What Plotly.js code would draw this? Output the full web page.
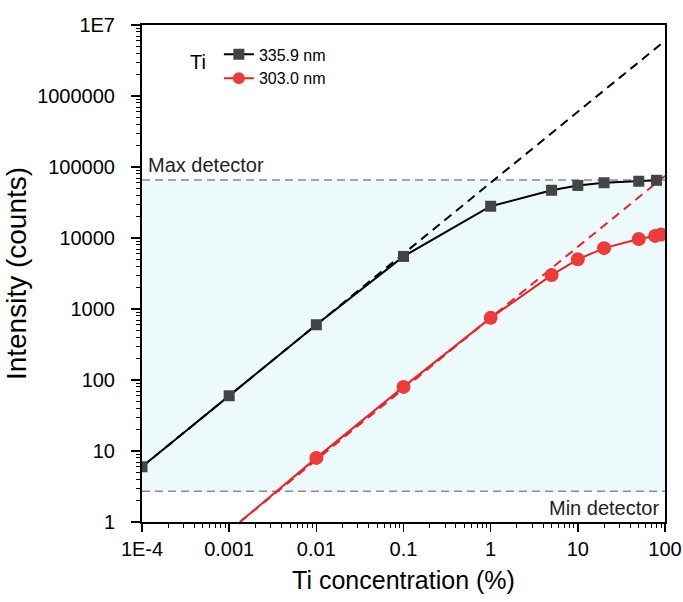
<!DOCTYPE html>
<html>
<head>
<meta charset="utf-8">
<script src="https://cdn.plot.ly/plotly-3.0.1.min.js"></script>
<style>html,body{margin:0;padding:0;background:#fff;}#chart{width:683px;height:602px;}</style>
</head>
<body>
<div id="chart"></div>
<script>
// Data
const concTi3359 = [1e-4, 0.001, 0.01, 0.1, 1, 5, 10, 20, 50, 80];
const intTi3359 = [6, 60, 600, 5500, 28000, 47000, 55000, 60000, 63000, 65000];
const concTi3030 = [0.00133, 0.01, 0.1, 1, 5, 10, 20, 50, 77, 90];
const intTi3030 = [1, 8, 80, 750, 3000, 5000, 7200, 9700, 10700, 11200];
// Ideal linear extrapolations (dashed)
const idealX = [1e-4, 100];
const ideal3359 = [6, 6000000];
const idealX3030 = [0.00133, 100];
const ideal3030 = [1, 75000];
// Detector limits
const maxDetector = 65535;
const minDetector = 2.7;
const xRange = [1e-4, 100];
// Tick labels
const xTickVals = [1e-4, 0.001, 0.01, 0.1, 1, 10, 100];
const xTickText = ["1E-4", "0.001", "0.01", "0.1", "1", "10", "100"];
const yTickVals = [1, 10, 100, 1000, 10000, 100000, 1000000, 10000000];
const yTickText = ["1", "10", "100", "1000", "10000", "100000", "1000000", "1E7"];

function minorVals(lo, hi) {
  const out = [];
  for (let e = lo; e < hi; e++) for (let m = 2; m <= 9; m++) out.push(m * Math.pow(10, e));
  return out;
}

const black = '#000000';
const blackMarker = '#444444';
const red = '#ec2227';
const redMarker = '#ef3a3a';
const FF = 'Liberation Sans, Arial, sans-serif';

const traces = [
  // shaded detector range
  {x: xRange, y: [minDetector, minDetector], mode: 'lines', line: {width: 0}, showlegend: false, hoverinfo: 'skip'},
  {x: xRange, y: [maxDetector, maxDetector], mode: 'lines', fill: 'tonexty', fillcolor: '#edfafc', line: {width: 0}, showlegend: false, hoverinfo: 'skip'},
  // detector lines
  {x: xRange, y: [maxDetector, maxDetector], mode: 'lines', line: {color: '#8a8a8a', width: 1.5, dash: '8px,5px'}, showlegend: false},
  {x: xRange, y: [minDetector, minDetector], mode: 'lines', line: {color: '#8a8a8a', width: 1.5, dash: '8px,5px'}, showlegend: false},
  // ideal dashed
  {x: idealX, y: ideal3359, mode: 'lines', line: {color: black, width: 2, dash: '9px,6px'}, showlegend: false},
  {x: idealX3030, y: ideal3030, mode: 'lines', line: {color: red, width: 2, dash: '9px,6px'}, showlegend: false},
  // series
  {x: concTi3359, y: intTi3359, mode: 'lines+markers', name: '335.9 nm',
   line: {color: black, width: 2}, marker: {symbol: 'square', size: 11, color: blackMarker}},
  {x: concTi3030, y: intTi3030, mode: 'lines', name: '303.0 nm', showlegend: false,
   line: {color: red, width: 2}},
  {x: concTi3030.slice(1), y: intTi3030.slice(1), mode: 'markers', name: '303.0 nm',
   marker: {symbol: 'circle', size: 14, color: redMarker}, showlegend: false},
  {x: [null], y: [null], mode: 'lines+markers', name: '303.0 nm',
   line: {color: red, width: 2}, marker: {symbol: 'circle', size: 12, color: redMarker}}
];

const axisFont = {family: FF, size: 20, color: '#000'};
const layout = {
  width: 683, height: 602,
  margin: {l: 142, r: 18, t: 25, b: 80},
  paper_bgcolor: '#fff', plot_bgcolor: '#fff',
  font: axisFont,
  showlegend: true,
  legend: {x: 0.147, y: 0.975, xanchor: 'left', yanchor: 'top', bgcolor: 'rgba(0,0,0,0)',
           traceorder: 'normal',
           font: {family: FF, size: 16, color: '#000'},
           tracegroupgap: 0},
  xaxis: {
    type: 'log', range: [-4, 2], tickvals: xTickVals, ticktext: xTickText,
    ticks: 'outside', ticklen: 8, tickwidth: 1.5, tickcolor: '#000',
    showline: true, linecolor: '#000', linewidth: 2, mirror: true,
    showgrid: false, zeroline: false, tickfont: axisFont,
    minor: {tickvals: minorVals(-4, 2), ticks: 'outside', ticklen: 4, tickwidth: 1, tickcolor: '#000', showgrid: false},
    title: {text: 'Ti concentration (%)', font: {family: FF, size: 25, color: '#000'}, standoff: 12}
  },
  yaxis: {
    type: 'log', range: [0, 7], tickvals: yTickVals, ticktext: yTickText,
    ticks: 'outside', ticklen: 9, tickwidth: 1.5, tickcolor: '#000',
    ticklabelstandoff: 12,
    showline: true, linecolor: '#000', linewidth: 2, mirror: true,
    showgrid: false, zeroline: false, tickfont: axisFont,
    minor: {tickvals: minorVals(0, 7), ticks: 'outside', ticklen: 4, tickwidth: 1, tickcolor: '#000', showgrid: false},
    title: {text: 'Intensity (counts)', font: {family: FF, size: 28, color: '#000'}, standoff: 2}
  },
  annotations: [
    {xref: 'paper', yref: 'y', x: 0.008, y: Math.log10(maxDetector), yanchor: 'bottom', xanchor: 'left',
     text: 'Max detector', showarrow: false, font: {family: FF, size: 20, color: '#222'}, yshift: 2},
    {xref: 'paper', yref: 'y', x: 0.993, y: Math.log10(minDetector), yanchor: 'top', xanchor: 'right',
     text: 'Min detector', showarrow: false, font: {family: FF, size: 20, color: '#222'}, yshift: -4},
    {xref: 'paper', yref: 'paper', x: 0.107, y: 0.925, xanchor: 'center', yanchor: 'middle',
     text: 'Ti', showarrow: false, font: {family: FF, size: 20, color: '#000'}}
  ]
};

Plotly.newPlot('chart', traces, layout, {displayModeBar: false, staticPlot: true});
</script>
</body>
</html>
